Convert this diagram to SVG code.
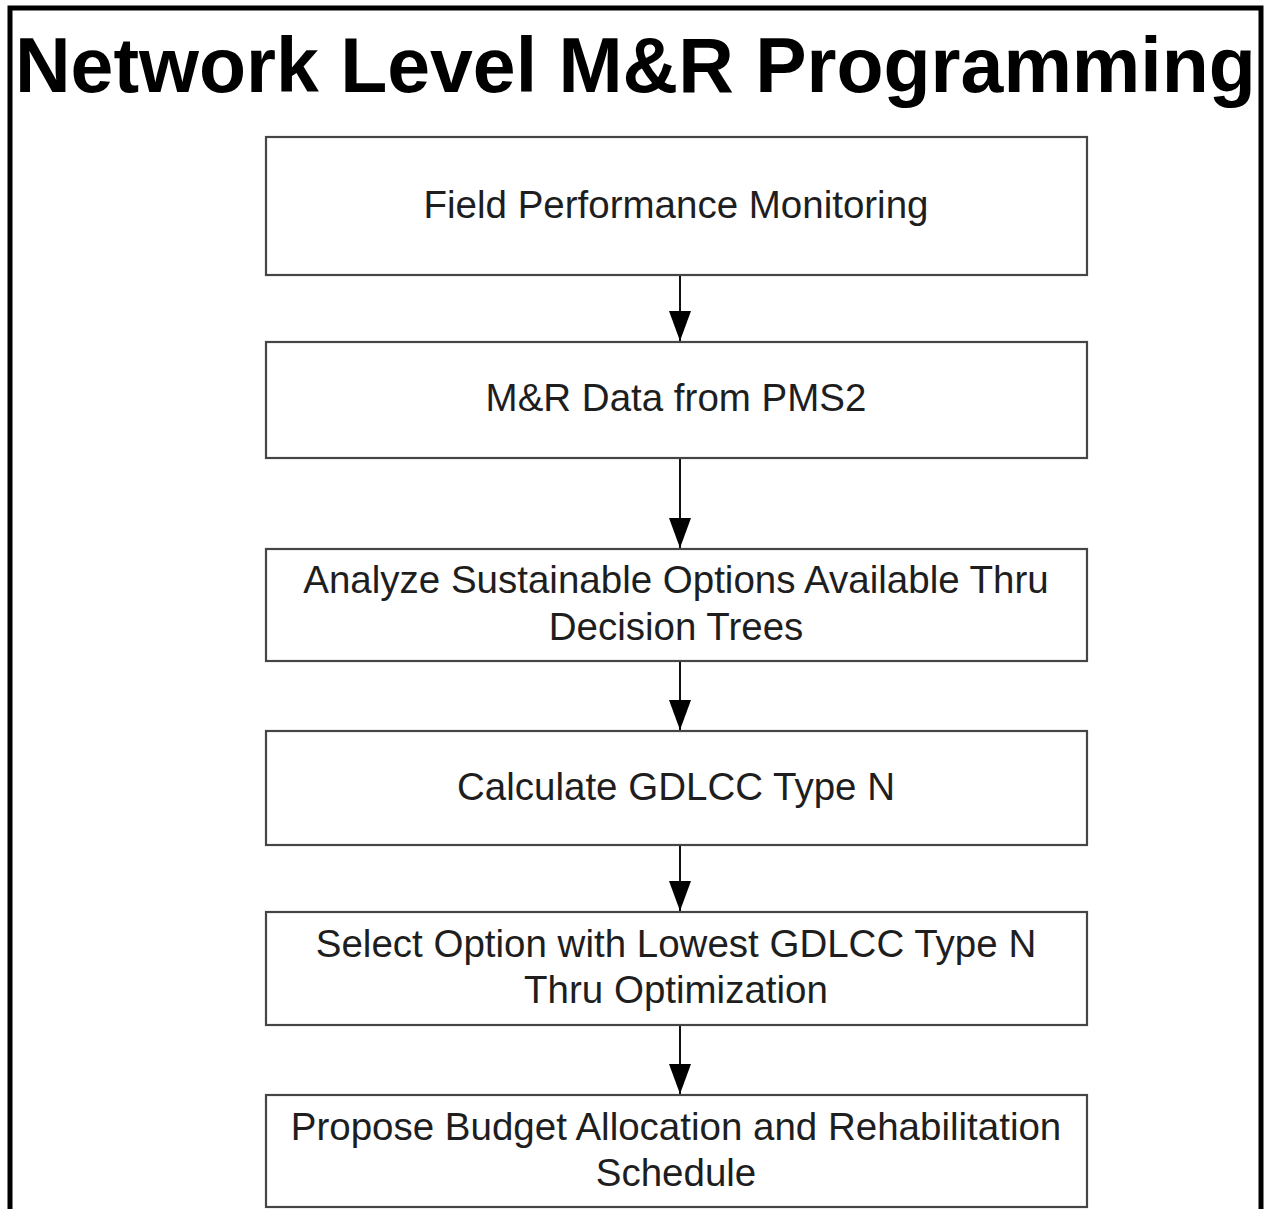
<svg xmlns="http://www.w3.org/2000/svg" width="1264" height="1209" viewBox="0 0 1264 1209">
<defs>
<style>
.box{fill:#fff;stroke:#454545;stroke-width:2.2}
.lbl{font-family:"Liberation Sans",Arial,sans-serif;font-size:38.5px;fill:#1e1e1e;text-anchor:middle}
.title{font-family:"Liberation Sans",Arial,sans-serif;font-size:77px;font-weight:bold;fill:#000}
.conn{stroke:#111;stroke-width:2;fill:none}
</style>
<marker id="ah" markerUnits="userSpaceOnUse" markerWidth="30" markerHeight="22" refX="30" refY="11" orient="auto" viewBox="0 0 30 22">
<path d="M0,0 L30,11 L0,22 Z" fill="#000"/>
</marker>
</defs>
<rect x="0" y="0" width="1264" height="1209" fill="#fff"/>
<rect id="frame" x="10" y="8" width="1251" height="1300" fill="none" stroke="#000" stroke-width="5"/>
<text class="title" x="15" y="92">Network Level M&amp;R Programming</text>
<g id="connectors">
<line class="conn" x1="680" y1="275" x2="680" y2="341" marker-end="url(#ah)"/>
<line class="conn" x1="680" y1="458" x2="680" y2="548" marker-end="url(#ah)"/>
<line class="conn" x1="680" y1="661" x2="680" y2="730" marker-end="url(#ah)"/>
<line class="conn" x1="680" y1="845" x2="680" y2="911" marker-end="url(#ah)"/>
<line class="conn" x1="680" y1="1025" x2="680" y2="1094" marker-end="url(#ah)"/>
</g>
<g id="n1"><rect class="box" x="266" y="137" width="821" height="138"/><text class="lbl" x="676" y="218">Field Performance Monitoring</text></g>
<g id="n2"><rect class="box" x="266" y="342" width="821" height="116"/><text class="lbl" x="676" y="411">M&amp;R Data from PMS2</text></g>
<g id="n3"><rect class="box" x="266" y="549" width="821" height="112"/><text class="lbl" x="676" y="593">Analyze Sustainable Options Available Thru</text><text class="lbl" x="676" y="640">Decision Trees</text></g>
<g id="n4"><rect class="box" x="266" y="731" width="821" height="114"/><text class="lbl" x="676" y="800">Calculate GDLCC Type N</text></g>
<g id="n5"><rect class="box" x="266" y="912" width="821" height="113"/><text class="lbl" x="676" y="957">Select Option with Lowest GDLCC Type N</text><text class="lbl" x="676" y="1003">Thru Optimization</text></g>
<g id="n6"><rect class="box" x="266" y="1095" width="821" height="112"/><text class="lbl" x="676" y="1140">Propose Budget Allocation and Rehabilitation</text><text class="lbl" x="676" y="1186">Schedule</text></g>
</svg>
